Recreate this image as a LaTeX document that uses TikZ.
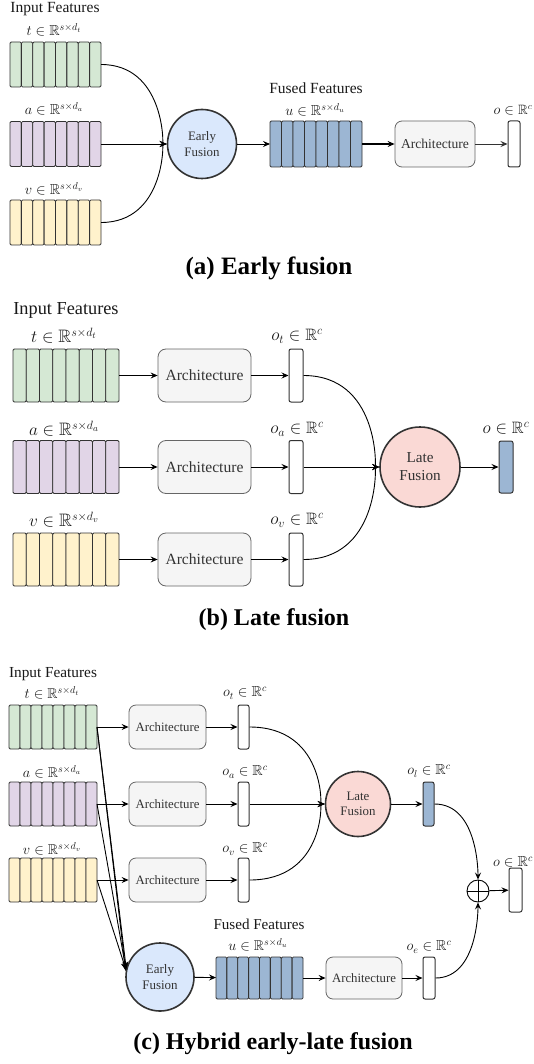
\documentclass[tikz,border=0pt]{standalone}
\usepackage{amssymb}
\usepackage{fontspec}
\setmainfont{Liberation Serif}
\usetikzlibrary{arrows.meta,calc}

\definecolor{gfill}{HTML}{D5E8D4}
\definecolor{pfill}{HTML}{E1D5E7}
\definecolor{yfill}{HTML}{FFF2CC}
\definecolor{bfill}{HTML}{9CB6D3}
\definecolor{efill}{HTML}{DAE8FC}
\definecolor{lfill}{HTML}{FAD9D5}
\definecolor{archfill}{HTML}{F5F5F5}
\definecolor{archdraw}{HTML}{666666}
\definecolor{darkline}{HTML}{333333}
\definecolor{txtgray}{HTML}{333333}

\newcommand\fsz[2]{\fontsize{#1}{#2}\selectfont}
\newcommand\featvec[6]{%
  \node[minimum width=#4pt,minimum height=#5pt,inner sep=0pt,outer sep=0pt] (#1) at (#2,#3) {};
  \foreach \ii in {0,...,7}{\draw[cellst,fill=#6] ($(#1.north west)+(\ii*#4/8,0)$) rectangle ++(#4/8,#5);}
}

\tikzset{
  cellst/.style={draw=darkline,line width=0.8pt,rounded corners=1.2pt},
  arr/.style={-{Stealth[length=7pt,width=6pt,inset=2.5pt]},line width=0.9pt,draw=black},
  archbox/.style={rectangle,rounded corners=7pt,draw=archdraw,fill=archfill,line width=0.8pt,inner sep=0pt,text=txtgray},
  outbox/.style={rectangle,rounded corners=2pt,draw=darkline,fill=white,line width=1pt,inner sep=0pt},
  efnode/.style={circle,draw=darkline,fill=efill,line width=1.6pt,inner sep=0pt,align=center,text=txtgray},
  lfnode/.style={circle,draw=darkline,fill=lfill,line width=1.6pt,inner sep=0pt,align=center,text=txtgray},
  lbl/.style={inner sep=0pt,text=black!90},
  captionst/.style={inner sep=0pt,text=black},
}

\begin{document}
\begin{tikzpicture}[x=1pt,y=-1pt]
\useasboundingbox[fill=white] (0,0) rectangle (534,1064);

% ---------------- (a) Early fusion ----------------
\node[lbl,font=\fsz{15.5}{18}] (inA) at (55,9) {Input Features};
\node[lbl,font=\fsz{14.5}{17}] (tlA) at (54,30) {$t\in\mathbb{R}^{s\times d_t}$};
\featvec{tA}{55.5}{64.5}{91}{45}{gfill}
\node[lbl,font=\fsz{14.5}{17}] (alA) at (54,109) {$a\in\mathbb{R}^{s\times d_a}$};
\featvec{aA}{55.5}{144}{91}{45}{pfill}
\node[lbl,font=\fsz{14.5}{17}] (vlA) at (54,189) {$v\in\mathbb{R}^{s\times d_v}$};
\featvec{vA}{55.5}{222.5}{91}{45}{yfill}
\node[efnode,minimum size=69pt,font=\fsz{12.9}{16}] (efA) at (202,144) {Early\\Fusion};
\featvec{uA}{316}{144}{92}{46}{bfill}
\node[lbl,font=\fsz{15.5}{18}] (ffA) at (316,88) {Fused Features};
\node[lbl,font=\fsz{14.5}{17}] (ulA) at (315,110) {$u\in\mathbb{R}^{s\times d_u}$};
\node[archbox,minimum width=80pt,minimum height=46pt,font=\fsz{13.6}{16}] (arA) at (435,144) {Architecture};
\node[outbox,minimum width=12pt,minimum height=46pt] (oA) at (514,144) {};
\node[lbl,font=\fsz{13.5}{16}] (olA) at (513,110) {$o\in\mathbb{R}^c$};
\node[captionst,font=\bfseries\fsz{25}{30}] (capA) at (269,268) {(a) Early fusion};

\draw[arr] (tA.east) .. controls +(63,0) and +(-3,0) .. (efA.west);
\draw[arr] (aA.east) -- (efA.west);
\draw[arr] (vA.east) .. controls +(63,0) and +(-3,0) .. (efA.west);
\draw[arr] (efA) -- (uA);
\draw[arr,line width=1.2pt] (uA) -- (arA);
\draw[arr,draw=darkline] (arA) -- (oA);

% ---------------- (b) Late fusion ----------------
\node[lbl,font=\fsz{18.3}{22}] (inB) at (66,310) {Input Features};
\node[lbl,font=\fsz{18}{21}] (tlB) at (64,336) {$t\in\mathbb{R}^{s\times d_t}$};
\featvec{tB}{66}{375.5}{106}{53}{gfill}
\node[lbl,font=\fsz{18}{21}] (alB) at (64,429) {$a\in\mathbb{R}^{s\times d_a}$};
\featvec{aB}{66}{467}{106}{53}{pfill}
\node[lbl,font=\fsz{18}{21}] (vlB) at (64,520) {$v\in\mathbb{R}^{s\times d_v}$};
\featvec{vB}{66}{559.5}{106}{53}{yfill}

\node[archbox,minimum width=93pt,minimum height=53pt,rounded corners=8pt,font=\fsz{15.6}{18}] (ar1B) at (204.5,375.5) {Architecture};
\node[archbox,minimum width=93pt,minimum height=53pt,rounded corners=8pt,font=\fsz{15.6}{18}] (ar2B) at (204.5,467) {Architecture};
\node[archbox,minimum width=93pt,minimum height=53pt,rounded corners=8pt,font=\fsz{15.6}{18}] (ar3B) at (204.5,559.5) {Architecture};

\node[outbox,minimum width=14pt,minimum height=53pt] (o1B) at (296,375.5) {};
\node[outbox,minimum width=14pt,minimum height=53pt] (o2B) at (296,467) {};
\node[outbox,minimum width=14pt,minimum height=53pt] (o3B) at (296,559.5) {};
\node[lbl,font=\fsz{16.5}{20}] (ol1B) at (297,336) {$o_t\in\mathbb{R}^c$};
\node[lbl,font=\fsz{16.5}{20}] (ol2B) at (297,429) {$o_a\in\mathbb{R}^c$};
\node[lbl,font=\fsz{16.5}{20}] (ol3B) at (297,520) {$o_v\in\mathbb{R}^c$};

\node[lfnode,minimum size=80pt,font=\fsz{15.2}{18}] (lfB) at (420,467) {Late\\Fusion};
\node[outbox,fill=bfill,minimum width=14pt,minimum height=52pt] (oB) at (506,467) {};
\node[lbl,font=\fsz{16.5}{20}] (olB) at (506,428) {$o\in\mathbb{R}^c$};
\node[captionst,font=\bfseries\fsz{24}{29}] (capB) at (274,620) {(b) Late fusion};

\draw[arr] (tB) -- (ar1B);
\draw[arr] (aB) -- (ar2B);
\draw[arr] (vB) -- (ar3B);
\draw[arr] (ar1B) -- (o1B);
\draw[arr] (ar2B) -- (o2B);
\draw[arr] (ar3B) -- (o3B);
\draw[arr] (o1B.east) .. controls +(75,0) and +(-3,0) .. (lfB.west);
\draw[arr] (o2B.east) -- (lfB.west);
\draw[arr] (o3B.east) .. controls +(75,0) and +(-3,0) .. (lfB.west);
\draw[arr] (lfB) -- (oB);

% ---------------- (c) Hybrid ----------------
\node[lbl,font=\fsz{15.3}{18}] (inC) at (53,674) {Input Features};
\node[lbl,font=\fsz{14.2}{17}] (tlC) at (52,693) {$t\in\mathbb{R}^{s\times d_t}$};
\featvec{tC}{53}{727}{88}{44}{gfill}
\node[lbl,font=\fsz{14.2}{17}] (alC) at (52,772) {$a\in\mathbb{R}^{s\times d_a}$};
\featvec{aC}{53}{804}{88}{44}{pfill}
\node[lbl,font=\fsz{14.2}{17}] (vlC) at (52,849) {$v\in\mathbb{R}^{s\times d_v}$};
\featvec{vC}{53}{880}{88}{44}{yfill}

\node[archbox,minimum width=77pt,minimum height=44pt,font=\fsz{12.8}{15}] (ar1C) at (167.5,727) {Architecture};
\node[archbox,minimum width=77pt,minimum height=44pt,font=\fsz{12.8}{15}] (ar2C) at (167.5,804) {Architecture};
\node[archbox,minimum width=77pt,minimum height=44pt,font=\fsz{12.8}{15}] (ar3C) at (167.5,880) {Architecture};

\node[outbox,minimum width=11pt,minimum height=44pt] (o1C) at (243.5,727) {};
\node[outbox,minimum width=11pt,minimum height=44pt] (o2C) at (243.5,804) {};
\node[outbox,minimum width=11pt,minimum height=44pt] (o3C) at (243.5,880) {};
\node[lbl,font=\fsz{14.5}{17}] (ol1C) at (245,693) {$o_t\in\mathbb{R}^c$};
\node[lbl,font=\fsz{14.5}{17}] (ol2C) at (245,772) {$o_a\in\mathbb{R}^c$};
\node[lbl,font=\fsz{14.5}{17}] (ol3C) at (245,849) {$o_v\in\mathbb{R}^c$};

\node[lfnode,minimum size=65pt,font=\fsz{12.9}{15.5}] (lfC) at (358,804) {Late\\Fusion};
\node[outbox,fill=bfill,minimum width=11pt,minimum height=44pt] (olC) at (428.5,804) {};
\node[lbl,font=\fsz{14.5}{17}] (ollC) at (429,771) {$o_l\in\mathbb{R}^c$};

\node[circle,draw=black,line width=0.9pt,minimum size=22pt,inner sep=0pt] (plus) at (478,891) {};
\draw[line width=0.9pt] (plus.north) -- (plus.south);
\draw[line width=0.9pt] (plus.west) -- (plus.east);
\node[outbox,minimum width=13pt,minimum height=44pt] (oC) at (515.5,890) {};
\node[lbl,font=\fsz{14.5}{17}] (olfC) at (513,862) {$o\in\mathbb{R}^c$};

\node[efnode,minimum size=68pt,font=\fsz{13}{15.5}] (efC) at (160,977) {Early\\Fusion};
\featvec{uC}{259.5}{978}{87}{42}{bfill}
\node[lbl,font=\fsz{15.1}{18}] (ffC) at (259,924) {Fused Features};
\node[lbl,font=\fsz{14.2}{17}] (ulC) at (258,945) {$u\in\mathbb{R}^{s\times d_u}$};
\node[archbox,minimum width=76pt,minimum height=42pt,font=\fsz{12.8}{15}] (ar4C) at (364,978) {Architecture};
\node[outbox,minimum width=12pt,minimum height=42pt] (oeC) at (429,978) {};
\node[lbl,font=\fsz{14.5}{17}] (oelC) at (429,947) {$o_e\in\mathbb{R}^c$};

\node[captionst,font=\bfseries\fsz{24}{29}] (capC) at (273,1044) {(c) Hybrid early-late fusion};

\draw[arr] (tC) -- (ar1C);
\draw[arr] (aC) -- (ar2C);
\draw[arr] (vC) -- (ar3C);
\draw[arr] (ar1C) -- (o1C);
\draw[arr] (ar2C) -- (o2C);
\draw[arr] (ar3C) -- (o3C);
\draw[arr] (o1C.east) .. controls +(74,0) and +(-3,0) .. (lfC.west);
\draw[arr] (o2C.east) -- (lfC.west);
\draw[arr] (o3C.east) .. controls +(74,0) and +(-3,0) .. (lfC.west);
\draw[arr] (lfC) -- (olC);
\draw[arr] (olC.east) .. controls +(44,0) and +(0,-5) .. (plus.north);
\draw[arr] (plus) -- (oC);

\draw[arr] (tC.east) -- (efC.166);
\draw[arr] (tC.east) -- (efC.170);
\draw[arr] (aC.east) -- (efC.168);
\draw[arr] (vC.east) -- (efC.168);
\draw[arr] (efC) -- (uC);
\draw[arr] (uC) -- (ar4C);
\draw[arr] (ar4C) -- (oeC);
\draw[arr] (oeC.east) .. controls +(43,0) and +(0,5) .. (plus.south);
\end{tikzpicture}
\end{document}
